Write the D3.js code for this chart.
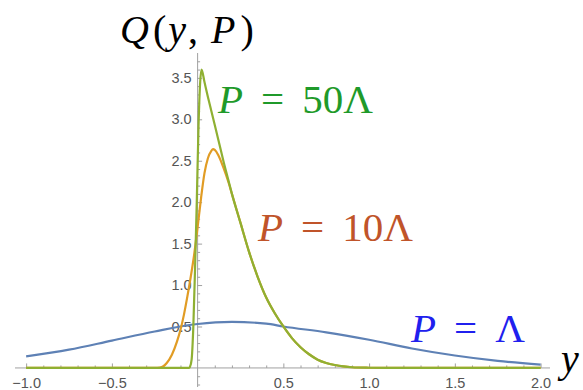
<!DOCTYPE html>
<html>
<head>
<meta charset="utf-8">
<script src="https://cdn.jsdelivr.net/npm/d3@7"></script>
<style>
  html, body { margin: 0; padding: 0; background: #fff; }
  svg { display: block; }
</style>
</head>
<body>
<svg id="chart" width="583" height="390"></svg>
<script>
// ---- data ----
const blueX  = [-1.0, -0.75, -0.5, -0.25, 0.0, 0.2, 0.4, 0.5, 0.75, 1.0, 1.25, 1.5, 1.75, 2.0];
const blueY  = [0.14, 0.22, 0.33, 0.44, 0.53, 0.555, 0.535, 0.50, 0.43, 0.34, 0.235, 0.15, 0.085, 0.04];

const orangeX = [-1.0, -0.25, -0.22, -0.2, -0.18, -0.15, -0.12, -0.1, -0.08, -0.06, -0.04, -0.02, 0.0, 0.02, 0.04, 0.06, 0.08, 0.09, 0.1, 0.12, 0.15, 0.18, 0.2, 0.25, 0.3, 0.35, 0.4, 0.45, 0.5, 0.55, 0.6, 0.65, 0.7, 0.75, 0.8, 0.85, 0.9, 1.0, 1.1, 2.0];
const orangeY = [0, 0, 0.005, 0.02, 0.06, 0.16, 0.32, 0.46, 0.64, 0.86, 1.1, 1.37, 1.7, 2.05, 2.35, 2.53, 2.62, 2.64, 2.63, 2.57, 2.42, 2.24, 2.1, 1.75, 1.4, 1.1, 0.85, 0.66, 0.5, 0.36, 0.25, 0.165, 0.1, 0.06, 0.035, 0.018, 0.008, 0.002, 0, 0];

const greenX = [-1.0, -0.05, -0.045, -0.035, -0.025, -0.015, -0.005, 0.005, 0.015, 0.023, 0.04, 0.06, 0.08, 0.1, 0.12, 0.15, 0.18, 0.2, 0.25, 0.3, 0.35, 0.4, 0.45, 0.5, 0.55, 0.6, 0.65, 0.7, 0.75, 0.8, 0.85, 0.9, 1.0, 1.1, 2.0];
const greenY = [0, 0, 0.01, 0.1, 0.5, 1.2, 2.0, 2.9, 3.45, 3.6, 3.45, 3.27, 3.1, 2.93, 2.76, 2.5, 2.26, 2.1, 1.75, 1.4, 1.1, 0.85, 0.66, 0.5, 0.36, 0.25, 0.165, 0.1, 0.06, 0.035, 0.018, 0.008, 0.002, 0, 0];

const xMajorTicks = [-1.0, -0.5, 0.5, 1.0, 1.5, 2.0];
const yMajorTicks = [0.5, 1.0, 1.5, 2.0, 2.5, 3.0, 3.5];
const xMinorTicks = d3.range(-10, 21).map(d => d / 10).filter(d => d !== 0 && Math.abs(d * 2 - Math.round(d * 2)) > 1e-9);
const yMinorTicks = d3.range(-2, 38).map(d => d / 10).filter(d => d !== 0 && Math.abs(d * 2 - Math.round(d * 2)) > 1e-9);

const seriesColors = ["#5e81b5", "#e19c24", "#8fb032"];

// ---- scales ----
const svg = d3.select("#chart");
const x = d3.scaleLinear().domain([-1.065, 2.055]).range([15, 550]);
const y = d3.scaleLinear().domain([-0.23, 3.8]).range([387, 53]);

const axisColor = "#a0a0a0";
const labelColor = "#555";

// axes lines
svg.append("line").attr("x1", x(-1.065)).attr("x2", x(2.055)).attr("y1", y(0)).attr("y2", y(0))
  .attr("stroke", axisColor).attr("stroke-width", 1);
svg.append("line").attr("x1", x(0)).attr("x2", x(0)).attr("y1", y(-0.23)).attr("y2", y(3.8))
  .attr("stroke", axisColor).attr("stroke-width", 1);

// x axis
const gx = svg.append("g").attr("transform", `translate(0,${y(0)})`);
gx.call(d3.axisBottom(x).tickValues(xMajorTicks).tickSize(-4.5).tickPadding(10).tickFormat(d3.format(".1f")));
gx.append("g").call(d3.axisBottom(x).tickValues(xMinorTicks).tickSize(-2.5).tickFormat(""));
gx.selectAll(".domain").remove();
gx.selectAll("line").attr("stroke", axisColor);
gx.attr("font-family", "Liberation Sans").attr("font-size", 14.5);
gx.selectAll("text").attr("fill", labelColor);

// y axis
const gy = svg.append("g").attr("transform", `translate(${x(0)},0)`);
gy.call(d3.axisLeft(y).tickValues(yMajorTicks).tickSize(-4.5).tickPadding(6).tickFormat(d3.format(".1f")));
gy.append("g").call(d3.axisLeft(y).tickValues(yMinorTicks).tickSize(-2.5).tickFormat(""));
gy.selectAll(".domain").remove();
gy.selectAll("line").attr("stroke", axisColor);
gy.attr("font-family", "Liberation Sans").attr("font-size", 14.5);
gy.selectAll("text").attr("fill", labelColor);

// curves
const line = d3.line().x(d => x(d[0])).y(d => y(d[1])).curve(d3.curveMonotoneX);
const series = [
  d3.zip(blueX, blueY),
  d3.zip(orangeX, orangeY),
  d3.zip(greenX, greenY)
];
series.forEach((s, i) => {
  svg.append("path").datum(s).attr("d", line)
    .attr("fill", "none").attr("stroke", seriesColors[i])
    .attr("stroke-width", 2.2).attr("stroke-linejoin", "round");
});

// labels
function mathLabel(px, py, parts, color, size) {
  const t = svg.append("text").attr("x", px).attr("y", py)
    .attr("fill", color).attr("font-size", size).attr("font-family", "Liberation Serif");
  parts.forEach(p => {
    t.append("tspan").text(p[0]).attr("font-style", p[1] ? "italic" : "normal")
      .attr("dx", p[2] || 0);
  });
  return t;
}
mathLabel(120, 43, [["Q", true], ["(", false, 4], ["y", true, 2], [",", false, 2], ["P", true, 13], [")", false, 5]], "#000", 40);
mathLabel(218, 113, [["P", true], ["=", false, 18], ["50Λ", false, 18]], "#1f9a2a", 41);
mathLabel(258, 241, [["P", true], ["=", false, 18], ["10Λ", false, 18]], "#c0542a", 41);
mathLabel(411, 342, [["P", true], ["=", false, 18], ["Λ", false, 18]], "#2020ee", 41);
mathLabel(561, 372, [["y", true]], "#000", 40);
</script>
</body>
</html>
